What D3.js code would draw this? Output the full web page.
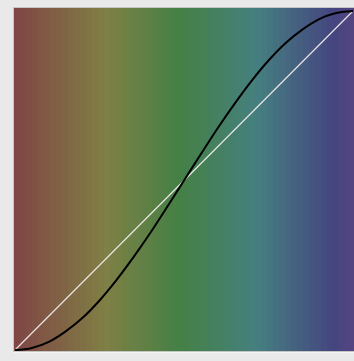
<!DOCTYPE html>
<html>
<head>
<meta charset="utf-8">
<script src="https://cdn.jsdelivr.net/npm/d3@7"></script>
<style>
  html, body { margin: 0; padding: 0; background: #e9e9e9; }
  svg { display: block; }
</style>
</head>
<body>
<svg id="chart" width="354" height="361"></svg>
<script>
// ---- data ----
// input values (t) sampled along the horizontal axis
const tValues = [0, 0.05, 0.10, 0.15, 0.20, 0.25, 0.30, 0.35, 0.40, 0.45, 0.50,
                 0.55, 0.60, 0.65, 0.70, 0.75, 0.80, 0.85, 0.90, 0.95, 1];
// eased output
const easedValues = [0, 0.006, 0.024, 0.055, 0.095, 0.146, 0.206, 0.273, 0.345, 0.422, 0.500,
                     0.578, 0.655, 0.727, 0.794, 0.854, 0.905, 0.945, 0.976, 0.994, 1];
// identity reference line (white)
const identityValues = [0, 1];
// background hue stops (degrees) across the plot from left to right
const hueStops = [0, 55, 125, 192, 258];
const bandCount = 57;

// ---- layout ----
const svg = d3.select("#chart");
const box = { x: 14, y: 8, w: 344, h: 343 };
const x = d3.scaleLinear().domain([0, 1]).range([15, 353]);
const y = d3.scaleLinear().domain([0, 1]).range([350, 11]);

// frame
svg.append("rect")
  .attr("x", box.x - 1).attr("y", box.y - 1)
  .attr("width", box.w + 2).attr("height", box.h + 2)
  .attr("fill", "#c4c6c4");
svg.append("rect")
  .attr("x", box.x).attr("y", box.y + box.h + 1)
  .attr("width", box.w).attr("height", 1)
  .attr("fill", "#f4f4f8");

// background bands
const bandX = d3.scaleLinear().domain([0, bandCount]).range([box.x, box.x + box.w]);
const hue = d3.scaleLinear()
  .domain(d3.range(hueStops.length).map(i => i / (hueStops.length - 1)))
  .range(hueStops);
svg.append("g").selectAll("rect")
  .data(d3.range(bandCount))
  .join("rect")
  .attr("x", i => Math.floor(bandX(i)))
  .attr("y", box.y)
  .attr("width", i => Math.ceil(bandX(i + 1)) - Math.floor(bandX(i)))
  .attr("height", box.h)
  .attr("fill", i => d3.hsl(hue((i + 0.5) / bandCount), 0.30, 0.385).formatHex());

// white identity line
svg.append("path")
  .datum(identityValues)
  .attr("d", d3.line().x(d => x(d)).y(d => y(d)))
  .attr("fill", "none")
  .attr("stroke", "#eeeae8")
  .attr("stroke-width", 1.1);

// black eased curve
const pts = tValues.map((t, i) => [t, easedValues[i]]);
svg.append("path")
  .datum(pts)
  .attr("d", d3.line().x(d => x(d[0])).y(d => y(d[1])).curve(d3.curveMonotoneX))
  .attr("fill", "none")
  .attr("stroke", "#000")
  .attr("stroke-width", 2);
</script>
</body>
</html>
